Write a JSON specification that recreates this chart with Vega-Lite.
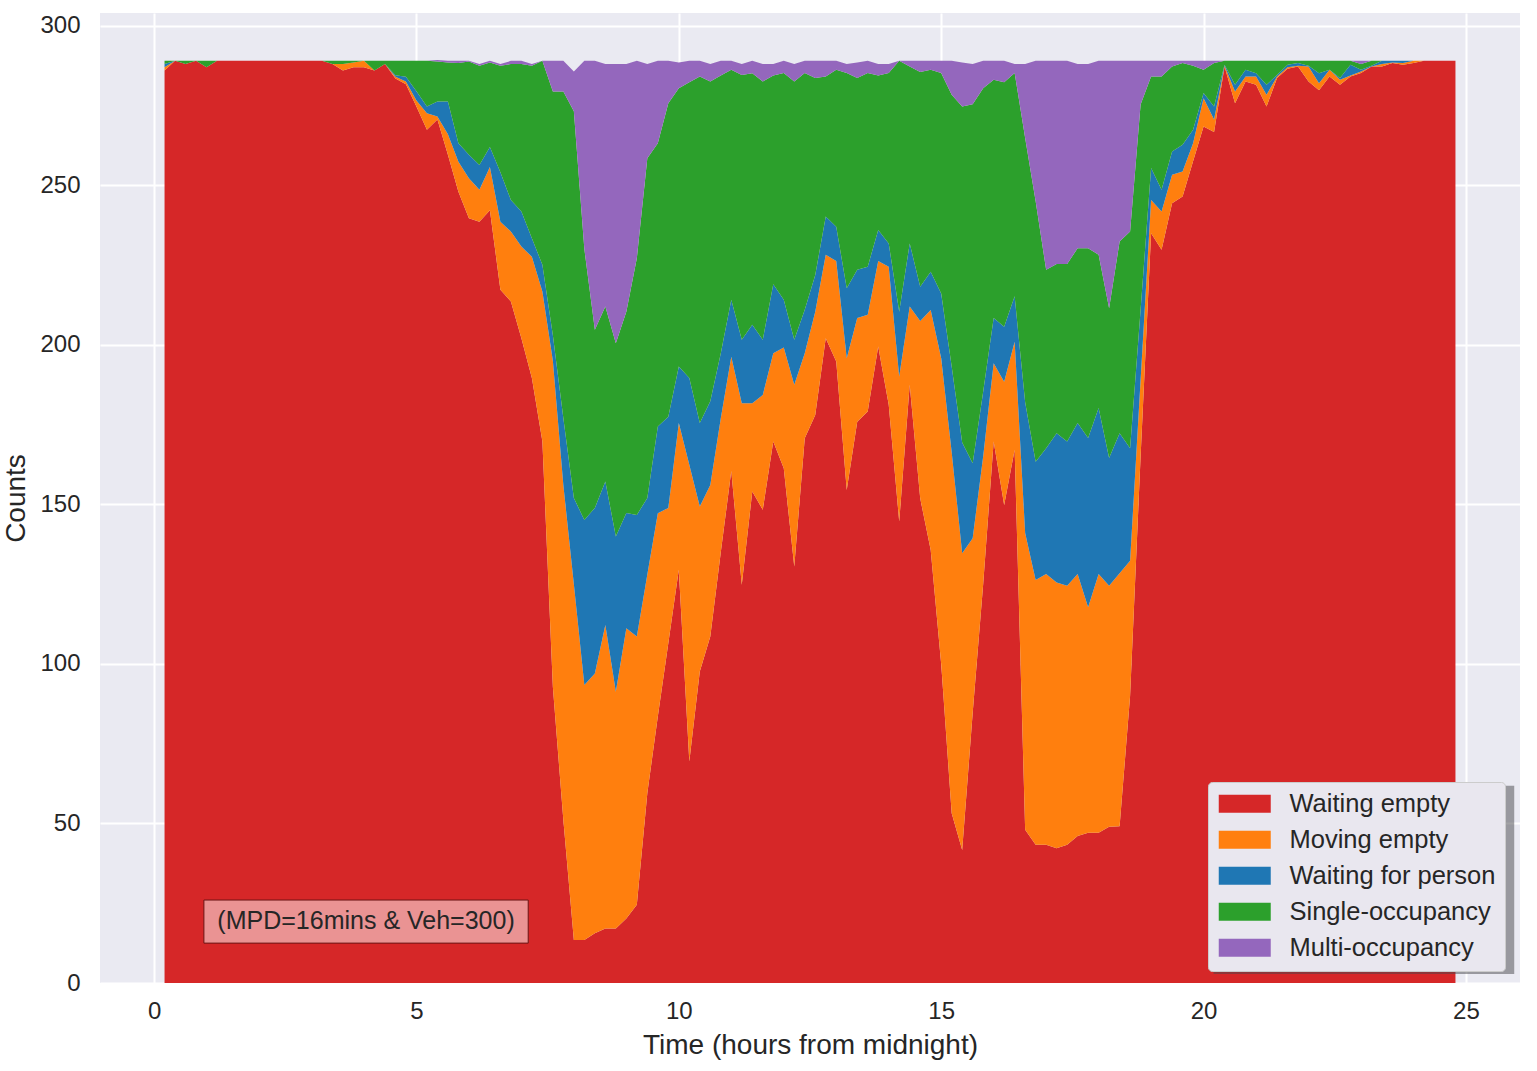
{
  "$schema": "https://vega.github.io/schema/vega-lite/v6.json",
  "width": 1420,
  "height": 970,
  "autosize": {"type": "none"},
  "padding": {"left": 100, "top": 13, "right": 17, "bottom": 88},
  "background": "white",
  "config": {
    "view": {"fill": "#EAEAF2", "stroke": null},
    "font": "Liberation Sans",
    "axis": {
      "domain": false, "ticks": false, "tickSize": 0,
      "gridColor": "white", "gridWidth": 2, "gridOpacity": 1,
      "labelFont": "Liberation Sans", "labelFontSize": 24, "labelColor": "#262626",
      "titleFont": "Liberation Sans", "titleFontSize": 28, "titleFontWeight": "normal", "titleColor": "#262626"
    }
  },
  "datasets": {
    "series": [
      {"k": "we", "label": "Waiting empty", "rank": 1},
      {"k": "me", "label": "Moving empty", "rank": 2},
      {"k": "wp", "label": "Waiting for person", "rank": 3},
      {"k": "so", "label": "Single-occupancy", "rank": 4},
      {"k": "mo", "label": "Multi-occupancy", "rank": 5}
    ],
    "counts": [
      {"t": 0.2, "we": 286, "me": 1, "wp": 1, "so": 1, "mo": 0},
      {"t": 0.4, "we": 289, "me": 0, "wp": 0, "so": 0, "mo": 0},
      {"t": 0.6, "we": 288, "me": 0, "wp": 0, "so": 1, "mo": 0},
      {"t": 0.8, "we": 289, "me": 0, "wp": 0, "so": 0, "mo": 0},
      {"t": 1.0, "we": 287, "me": 0, "wp": 0, "so": 2, "mo": 0},
      {"t": 1.2, "we": 289, "me": 0, "wp": 0, "so": 0, "mo": 0},
      {"t": 1.4, "we": 289, "me": 0, "wp": 0, "so": 0, "mo": 0},
      {"t": 1.6, "we": 289, "me": 0, "wp": 0, "so": 0, "mo": 0},
      {"t": 1.8, "we": 289, "me": 0, "wp": 0, "so": 0, "mo": 0},
      {"t": 2.0, "we": 289, "me": 0, "wp": 0, "so": 0, "mo": 0},
      {"t": 2.2, "we": 289, "me": 0, "wp": 0, "so": 0, "mo": 0},
      {"t": 2.4, "we": 289, "me": 0, "wp": 0, "so": 0, "mo": 0},
      {"t": 2.6, "we": 289, "me": 0, "wp": 0, "so": 0, "mo": 0},
      {"t": 2.8, "we": 289, "me": 0, "wp": 0, "so": 0, "mo": 0},
      {"t": 3.0, "we": 289, "me": 0, "wp": 0, "so": 0, "mo": 0},
      {"t": 3.2, "we": 289, "me": 0, "wp": 0, "so": 0, "mo": 0},
      {"t": 3.4, "we": 288, "me": 0, "wp": 0, "so": 1, "mo": 0},
      {"t": 3.6, "we": 286, "me": 2, "wp": 0, "so": 1, "mo": 0},
      {"t": 3.8, "we": 287, "me": 1.5, "wp": 0, "so": 0.5, "mo": 0},
      {"t": 4.0, "we": 287, "me": 2, "wp": 0, "so": 0, "mo": 0},
      {"t": 4.2, "we": 286, "me": 0, "wp": 0, "so": 3, "mo": 0},
      {"t": 4.4, "we": 288, "me": 0, "wp": 0, "so": 1, "mo": 0},
      {"t": 4.6, "we": 283.5, "me": 0.5, "wp": 0.5, "so": 4.5, "mo": 0},
      {"t": 4.8, "we": 281.7, "me": 0.8, "wp": 1.5, "so": 5, "mo": 0},
      {"t": 5.0, "we": 274.7, "me": 1.9, "wp": 2.9, "so": 9.5, "mo": 0},
      {"t": 5.2, "we": 267.4, "me": 5.2, "wp": 2.1, "so": 14.3, "mo": 0},
      {"t": 5.4, "we": 270.6, "me": 1, "wp": 4.7, "so": 12.5, "mo": 0.5},
      {"t": 5.6, "we": 259.6, "me": 6.4, "wp": 10.3, "so": 12.2, "mo": 0.5},
      {"t": 5.8, "we": 248, "me": 9.4, "wp": 5.8, "so": 25.1, "mo": 0.7},
      {"t": 6.0, "we": 239.7, "me": 12.5, "wp": 7.4, "so": 29.2, "mo": 0.2},
      {"t": 6.2, "we": 238.6, "me": 10, "wp": 7.8, "so": 31.1, "mo": 0.5},
      {"t": 6.4, "we": 242.2, "me": 13.5, "wp": 6.3, "so": 26.5, "mo": 0.5},
      {"t": 6.6, "we": 217.3, "me": 21.3, "wp": 15.5, "so": 33.4, "mo": 0.5},
      {"t": 6.8, "we": 213.6, "me": 21.9, "wp": 9.9, "so": 42.6, "mo": 1},
      {"t": 7.0, "we": 202.1, "me": 28.7, "wp": 11, "so": 46.2, "mo": 1},
      {"t": 7.2, "we": 189.6, "me": 38, "wp": 5.8, "so": 54.1, "mo": 0.5},
      {"t": 7.4, "we": 169.8, "me": 46.9, "wp": 8.4, "so": 63.9, "mo": 0},
      {"t": 7.6, "we": 92.8, "me": 102.2, "wp": 8, "so": 76.4, "mo": 9.6},
      {"t": 7.8, "we": 51, "me": 105, "wp": 21, "so": 102.4, "mo": 9.6},
      {"t": 8.0, "we": 13.5, "me": 111.5, "wp": 27, "so": 121.2, "mo": 12.5},
      {"t": 8.2, "we": 13.5, "me": 79.9, "wp": 51.7, "so": 84.9, "mo": 59},
      {"t": 8.4, "we": 15.6, "me": 81.4, "wp": 51.9, "so": 55.8, "mo": 84.3},
      {"t": 8.6, "we": 17.1, "me": 95.1, "wp": 45, "so": 54.8, "mo": 76},
      {"t": 8.8, "we": 17.1, "me": 74.2, "wp": 48.6, "so": 60.6, "mo": 87.5},
      {"t": 9.0, "we": 20.2, "me": 91, "wp": 36.1, "so": 63.1, "mo": 77.6},
      {"t": 9.2, "we": 24.5, "me": 84.1, "wp": 38.1, "so": 80.4, "mo": 61.9},
      {"t": 9.4, "we": 59.5, "me": 68.5, "wp": 24, "so": 106.5, "mo": 29.5},
      {"t": 9.6, "we": 83.5, "me": 63.7, "wp": 27.2, "so": 88.8, "mo": 25.8},
      {"t": 9.8, "we": 106.5, "me": 42.4, "wp": 28.6, "so": 98.2, "mo": 13.3},
      {"t": 10.0, "we": 129.5, "me": 46, "wp": 17.7, "so": 87.2, "mo": 8.1},
      {"t": 10.2, "we": 69.4, "me": 93, "wp": 27.2, "so": 92.7, "mo": 6.7},
      {"t": 10.4, "we": 97.6, "me": 51.7, "wp": 26.2, "so": 108.6, "mo": 4.9},
      {"t": 10.6, "we": 108.6, "me": 47.5, "wp": 26.2, "so": 100.2, "mo": 5.5},
      {"t": 10.8, "we": 135, "me": 42, "wp": 20.4, "so": 87, "mo": 4.6},
      {"t": 11.0, "we": 160.5, "me": 35.8, "wp": 17.8, "so": 72.1, "mo": 2.8},
      {"t": 11.2, "we": 124.8, "me": 56.9, "wp": 19.9, "so": 83, "mo": 3.4},
      {"t": 11.4, "we": 154, "me": 27.7, "wp": 24.6, "so": 78.8, "mo": 3.9},
      {"t": 11.6, "we": 148.3, "me": 36, "wp": 17.3, "so": 80.9, "mo": 5.5},
      {"t": 11.8, "we": 169.7, "me": 27.7, "wp": 21.6, "so": 65.4, "mo": 3.6},
      {"t": 12.0, "we": 161.3, "me": 37.9, "wp": 14.9, "so": 71.1, "mo": 3.8},
      {"t": 12.2, "we": 130.5, "me": 57, "wp": 14.1, "so": 80.9, "mo": 5.5},
      {"t": 12.4, "we": 170.7, "me": 26.7, "wp": 13.6, "so": 74.2, "mo": 3.8},
      {"t": 12.6, "we": 178, "me": 32.4, "wp": 11.5, "so": 61.7, "mo": 5.4},
      {"t": 12.8, "we": 202.1, "me": 26.1, "wp": 12, "so": 43.9, "mo": 4.9},
      {"t": 13.0, "we": 194.8, "me": 31.5, "wp": 10.7, "so": 49.2, "mo": 2.8},
      {"t": 13.2, "we": 154.5, "me": 41.3, "wp": 21.9, "so": 67.5, "mo": 2.8},
      {"t": 13.4, "we": 175.9, "me": 32.5, "wp": 15.1, "so": 60.1, "mo": 4.9},
      {"t": 13.6, "we": 179.1, "me": 30.3, "wp": 15.1, "so": 60.7, "mo": 3.8},
      {"t": 13.8, "we": 199.5, "me": 26.8, "wp": 9.7, "so": 48.4, "mo": 3.6},
      {"t": 14.0, "we": 181.2, "me": 43.3, "wp": 7.3, "so": 53.4, "mo": 2.8},
      {"t": 14.2, "we": 144.6, "me": 45.5, "wp": 20.3, "so": 78.6, "mo": 0},
      {"t": 14.4, "we": 187.5, "me": 24.5, "wp": 19.8, "so": 55.4, "mo": 1.8},
      {"t": 14.6, "we": 151.9, "me": 55.6, "wp": 10.7, "so": 67.3, "mo": 3.5},
      {"t": 14.8, "we": 135.7, "me": 75.2, "wp": 12, "so": 63.3, "mo": 2.8},
      {"t": 15.0, "we": 100, "me": 95.8, "wp": 20.3, "so": 69.1, "mo": 3.8},
      {"t": 15.2, "we": 53.2, "me": 113.1, "wp": 26.9, "so": 85.2, "mo": 10.6},
      {"t": 15.4, "we": 41.7, "me": 93, "wp": 34.7, "so": 105.3, "mo": 13.8},
      {"t": 15.6, "we": 84.6, "me": 54.8, "wp": 23.5, "so": 112.5, "mo": 12.6},
      {"t": 15.8, "we": 125, "me": 40, "wp": 20.3, "so": 95.1, "mo": 8.6},
      {"t": 16.0, "we": 169.7, "me": 24.5, "wp": 14.2, "so": 74.7, "mo": 5.9},
      {"t": 16.2, "we": 149.8, "me": 38.6, "wp": 17.3, "so": 76.6, "mo": 6.7},
      {"t": 16.4, "we": 167.1, "me": 33.9, "wp": 14.2, "so": 70, "mo": 2.8},
      {"t": 16.6, "we": 48, "me": 93, "wp": 41, "so": 82.8, "mo": 23.2},
      {"t": 16.8, "we": 43.3, "me": 83, "wp": 37.1, "so": 81.6, "mo": 44},
      {"t": 17.0, "we": 43.3, "me": 84.9, "wp": 39.4, "so": 55.9, "mo": 65.5},
      {"t": 17.2, "we": 42.2, "me": 83.3, "wp": 46.8, "so": 53, "mo": 63.7},
      {"t": 17.4, "we": 43.3, "me": 81.2, "wp": 45.2, "so": 55.6, "mo": 63.7},
      {"t": 17.6, "we": 46.1, "me": 82.1, "wp": 47.3, "so": 54.8, "mo": 57.7},
      {"t": 17.8, "we": 47.1, "me": 70.7, "wp": 53, "so": 59.5, "mo": 57.7},
      {"t": 18.0, "we": 47.1, "me": 81.1, "wp": 52, "so": 48, "mo": 60.8},
      {"t": 18.2, "we": 49, "me": 75.5, "wp": 40, "so": 47, "mo": 77.5},
      {"t": 18.4, "we": 49.1, "me": 79.3, "wp": 43.9, "so": 60.1, "mo": 56.6},
      {"t": 18.6, "we": 90, "me": 42.3, "wp": 35.3, "so": 67.9, "mo": 53.5},
      {"t": 18.8, "we": 165, "me": 24, "wp": 22, "so": 64.3, "mo": 13.7},
      {"t": 19.0, "we": 235, "me": 10.4, "wp": 10, "so": 28.7, "mo": 4.9},
      {"t": 19.2, "we": 229.8, "me": 12, "wp": 6.8, "so": 35.5, "mo": 4.9},
      {"t": 19.4, "we": 244.4, "me": 8.9, "wp": 7.3, "so": 26.6, "mo": 1.8},
      {"t": 19.6, "we": 246.5, "me": 7.8, "wp": 8.4, "so": 25.6, "mo": 0.7},
      {"t": 19.8, "we": 257.5, "me": 5.7, "wp": 4.2, "so": 20.1, "mo": 1.5},
      {"t": 20.0, "we": 268.4, "me": 8.9, "wp": 1.6, "so": 7.3, "mo": 2.8},
      {"t": 20.2, "we": 266.7, "me": 3.9, "wp": 4.1, "so": 13.6, "mo": 0.7},
      {"t": 20.4, "we": 287.2, "me": 0.3, "wp": 0.3, "so": 1.2, "mo": 0},
      {"t": 20.6, "we": 275.7, "me": 3.7, "wp": 2.1, "so": 7.5, "mo": 0},
      {"t": 20.8, "we": 282.5, "me": 1.6, "wp": 2.1, "so": 2.8, "mo": 0},
      {"t": 21.0, "we": 281.5, "me": 2.6, "wp": 1, "so": 3.9, "mo": 0},
      {"t": 21.2, "we": 274.7, "me": 3.7, "wp": 3.1, "so": 7.5, "mo": 0},
      {"t": 21.4, "we": 283.6, "me": 0.5, "wp": 0.5, "so": 4.4, "mo": 0},
      {"t": 21.6, "we": 286.5, "me": 0.5, "wp": 0.8, "so": 1.2, "mo": 0},
      {"t": 21.8, "we": 287.2, "me": 0.3, "wp": 0.8, "so": 0.7, "mo": 0},
      {"t": 22.0, "we": 282.5, "me": 4.7, "wp": 0.3, "so": 1.5, "mo": 0},
      {"t": 22.2, "we": 279.8, "me": 2.2, "wp": 3.1, "so": 3.9, "mo": 0},
      {"t": 22.4, "we": 284.1, "me": 2.1, "wp": 0, "so": 2.8, "mo": 0},
      {"t": 22.6, "we": 281.5, "me": 1.6, "wp": 0.5, "so": 5.4, "mo": 0},
      {"t": 22.8, "we": 284.1, "me": 0.3, "wp": 3.4, "so": 1.2, "mo": 0},
      {"t": 23.0, "we": 285.2, "me": 0.5, "wp": 0.5, "so": 1.8, "mo": 1},
      {"t": 23.2, "we": 287.2, "me": 0, "wp": 0.3, "so": 1.5, "mo": 0},
      {"t": 23.4, "we": 287.2, "me": 0.8, "wp": 1, "so": 0, "mo": 0},
      {"t": 23.6, "we": 288.3, "me": 0.2, "wp": 0.5, "so": 0, "mo": 0},
      {"t": 23.8, "we": 287.8, "me": 0.5, "wp": 0.7, "so": 0, "mo": 0},
      {"t": 24.0, "we": 288.3, "me": 0.7, "wp": 0, "so": 0, "mo": 0},
      {"t": 24.2, "we": 289, "me": 0, "wp": 0, "so": 0, "mo": 0},
      {"t": 24.4, "we": 289, "me": 0, "wp": 0, "so": 0, "mo": 0},
      {"t": 24.6, "we": 289, "me": 0, "wp": 0, "so": 0, "mo": 0},
      {"t": 24.8, "we": 289, "me": 0, "wp": 0, "so": 0, "mo": 0}
    ]
  },
  "layer": [
    {
      "data": {"name": "counts"},
      "transform": [
        {"fold": ["we", "me", "wp", "so", "mo"], "as": ["k", "v"]},
        {"lookup": "k", "from": {"data": {"name": "series"}, "key": "k", "fields": ["label", "rank"]}}
      ],
      "mark": {"type": "area", "interpolate": "linear", "opacity": 1},
      "encoding": {
        "x": {
          "field": "t", "type": "quantitative",
          "scale": {"domain": [-1.03, 26.03], "nice": false, "zero": false},
          "axis": {"values": [0, 5, 10, 15, 20, 25], "title": "Time (hours from midnight)", "labelPadding": 16, "titlePadding": 8, "grid": true}
        },
        "y": {
          "field": "v", "type": "quantitative", "stack": "zero",
          "scale": {"domain": [0, 304], "nice": false},
          "axis": {"values": [0, 50, 100, 150, 200, 250, 300], "title": "Counts", "labelPadding": 20, "titlePadding": 9, "grid": true}
        },
        "color": {
          "field": "label", "type": "nominal",
          "scale": {
            "domain": ["Waiting empty", "Moving empty", "Waiting for person", "Single-occupancy", "Multi-occupancy"],
            "range": ["#d62728", "#ff7f0e", "#1f77b4", "#2ca02c", "#9467bd"]
          },
          "legend": {
            "orient": "none", "legendX": 1108, "legendY": 769, "title": null,
            "padding": 9, "fillColor": "#E9E7EF", "strokeColor": "#CCCCCC", "cornerRadius": 4,
            "labelFont": "Liberation Sans", "labelFontSize": 25.5, "labelColor": "#262626", "labelLimit": 400,
            "symbolType": "M-2.6,-0.9H2.6V0.9H-2.6Z", "symbolSize": 400, "symbolStrokeWidth": 0, "symbolOpacity": 1,
            "symbolOffset": 15, "labelOffset": 32, "rowPadding": 9
          }
        },
        "order": {"field": "rank", "type": "quantitative"}
      }
    },
    {
      "data": {"values": [{}]},
      "mark": {"type": "rect", "fill": "#464649", "opacity": 0.5},
      "encoding": {
        "x": {"datum": 20.19, "type": "quantitative"},
        "x2": {"datum": 25.92},
        "y": {"datum": 2.8, "type": "quantitative"},
        "y2": {"datum": 61.8}
      }
    },
    {
      "data": {"values": [{}]},
      "mark": {"type": "rect", "fill": "#EA9393", "stroke": "#6B1414", "strokeWidth": 1},
      "encoding": {
        "x": {"datum": 0.95, "type": "quantitative"},
        "x2": {"datum": 7.13},
        "y": {"datum": 12.5, "type": "quantitative"},
        "y2": {"datum": 26}
      }
    },
    {
      "data": {"values": [{}]},
      "mark": {"type": "text", "text": "(MPD=16mins & Veh=300)", "font": "Liberation Sans", "fontSize": 25, "color": "#262626", "align": "center", "baseline": "middle"},
      "encoding": {
        "x": {"datum": 4.04, "type": "quantitative"},
        "y": {"datum": 19.4, "type": "quantitative"}
      }
    }
  ]
}
